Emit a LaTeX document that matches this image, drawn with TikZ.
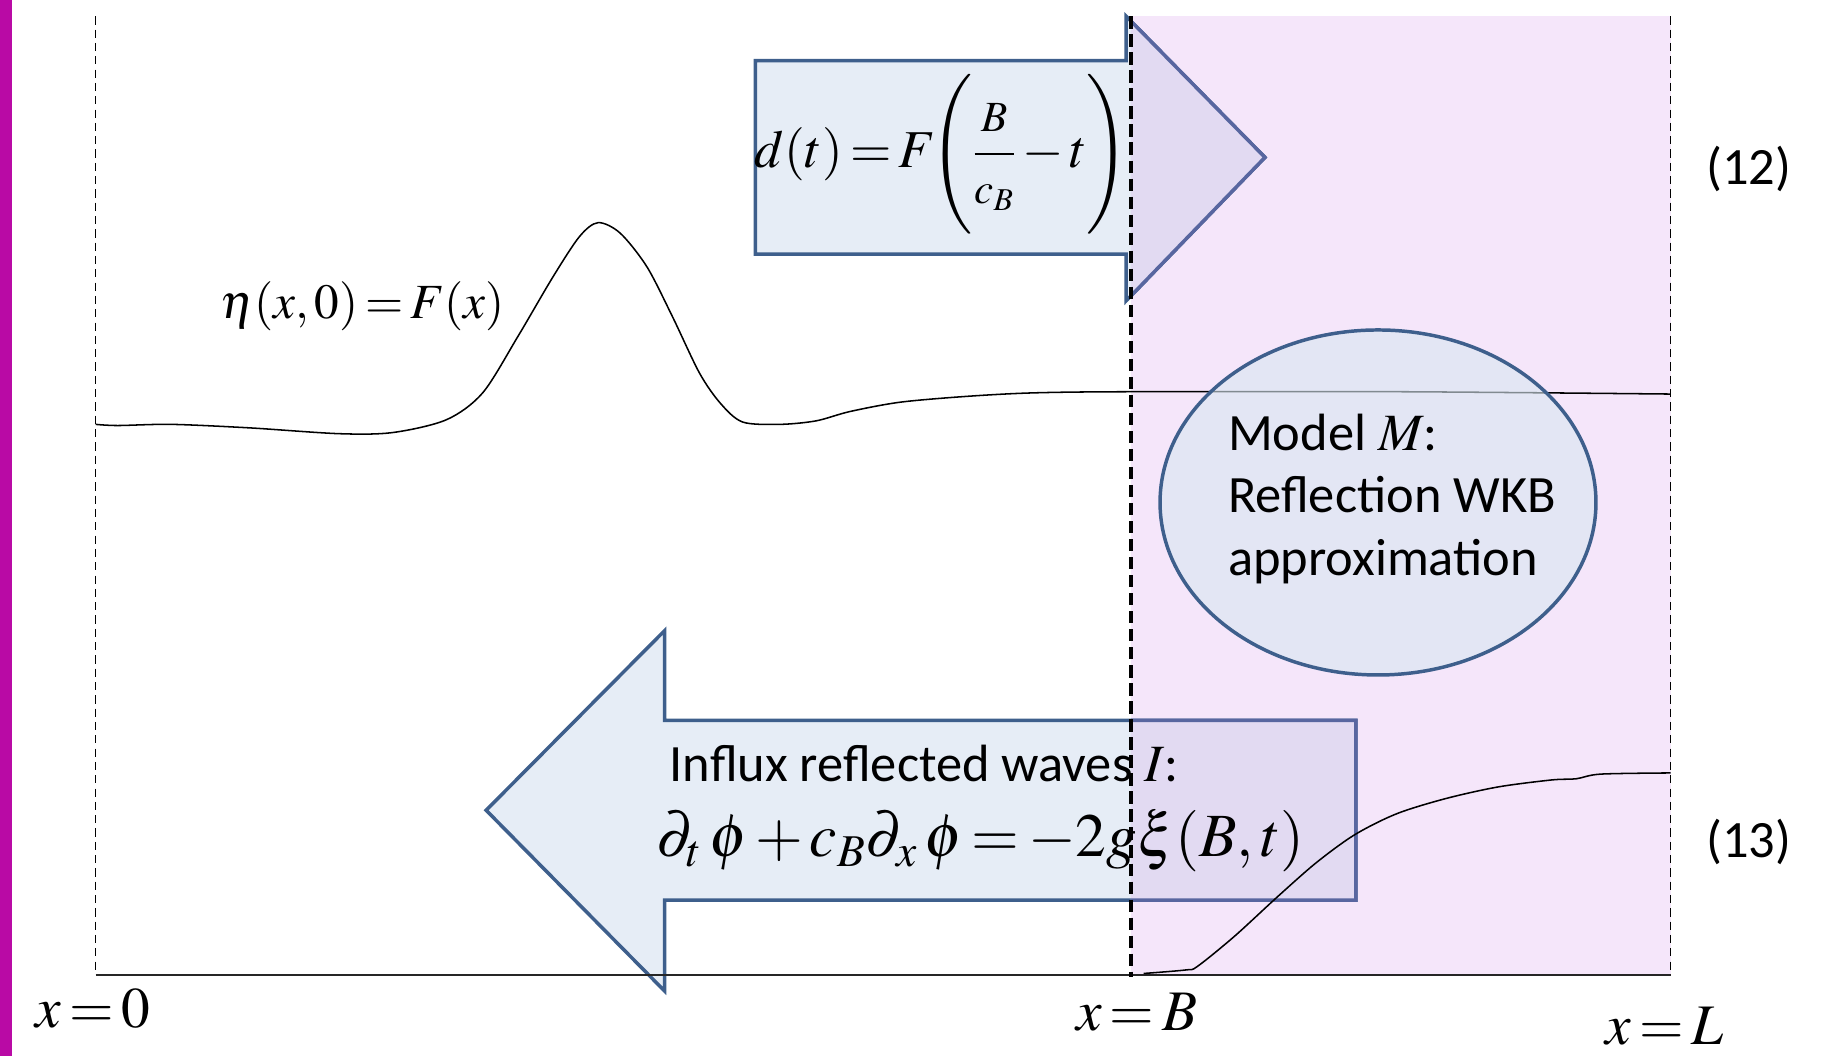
\documentclass[tikz,border=0pt]{standalone}
\usepackage{amsmath}
\usepackage{mathptmx}
\usepackage[no-math]{fontspec}
\setmainfont{Carlito}
\usepackage{xcolor}

\definecolor{sidebar}{RGB}{185,10,165}
\definecolor{zonepink}{RGB}{245,230,250}
\definecolor{arrowfill}{RGB}{230,237,246}
\definecolor{arrowedge}{RGB}{62,95,140}
\definecolor{zonefill}{RGB}{226,218,242}
\definecolor{zoneedge}{RGB}{88,102,160}
\definecolor{modelfill}{RGB}{215,230,240}

% MathType-like tight spacing
\newcommand{\tightmath}{\medmuskip=2mu\thickmuskip=2.5mu}
\newcommand{\fracpart}[1]{\mbox{\fontsize{21}{24}\selectfont$#1$}}

\begin{document}
\begin{tikzpicture}[x=0.02cm, y=-0.02cm,
    bigarrow/.style={fill=arrowfill, draw=arrowedge, line width=1.7pt, line join=miter},
    zonearrow/.style={fill=zonefill, draw=zoneedge, line width=1.7pt, line join=miter},
    thindash/.style={black, line width=0.6pt, dash pattern=on 4pt off 2.5pt},
    wave/.style={black, line width=0.75pt},
    lbl/.style={font=\fontsize{25.6}{30.7}\selectfont},
    eqn/.style={font=\fontsize{28}{32}\selectfont\tightmath}
]
    \useasboundingbox (0,0) rectangle (1568,906);

    % Side bar and boundary zone
    \fill[sidebar] (0,0) rectangle (10,906);
    \fill[zonepink] (970,14) rectangle (1433,836);

    % Incoming and reflected arrows
    \path[bigarrow] (648,52) -- (966,52) -- (966,14) -- (1085,135) -- (966,258) -- (966,218) -- (648,218) -- cycle;
    \path[bigarrow] (1163,618) -- (570,618) -- (570,541) -- (417,695) -- (570,850) -- (570,772) -- (1163,772) -- cycle;
    \begin{scope}
        \clip (970,0) rectangle (1440,906);
        \path[zonearrow] (648,52) -- (966,52) -- (966,14) -- (1085,135) -- (966,258) -- (966,218) -- (648,218) -- cycle;
        \path[zonearrow] (1163,618) -- (570,618) -- (570,541) -- (417,695) -- (570,850) -- (570,772) -- (1163,772) -- cycle;
    \end{scope}

    % Domain limits and bottom
    \draw[thindash] (82,14) -- (82,836);
    \draw[thindash] (1433,14) -- (1433,836);
    \draw[black!85, line width=0.9pt] (82,836) -- (1433,836);

    % Free surface and bottom profile
    \draw[wave] plot[smooth] coordinates {(82,364) (101,365) (147,364) (214,367) (291,372) (337,371) (383,360) (414,337) (444,289) (474,238) (497,203) (513,191) (532,200) (555,229) (577,272) (600,320) (618,346) (637,362) (669,364) (700,361) (729,353) (772,345) (829,340) (886,337) (969,336) (1200,336) (1433,338)};
    \draw[wave] plot[smooth] coordinates {(981,835) (1017,832) (1027,829) (1059,803) (1096,769) (1129,740) (1162,716) (1198,698) (1240,685) (1285,675) (1331,669) (1352,668) (1373,664) (1433,663)};

    % Model ellipse
    \draw[fill=modelfill, fill opacity=0.6, draw=arrowedge, line width=1.7pt] (1182,431) ellipse [x radius=3.74cm, y radius=2.96cm];

    % Boundary x = B
    \draw[black, line width=1.8pt, dash pattern=on 6pt off 2.8pt] (970,14) -- (970,838);

    % Texts
    \node[eqn, font=\fontsize{26}{30}\selectfont\tightmath] (dbound) at (808,132) {$d(t)=F\!\!\left(\rule[-1.1em]{0pt}{2.85em}\dfrac{\fracpart{B}}{\fracpart{c_B}}-t\right)$};
    \node[eqn, font=\fontsize{24}{28}\selectfont\tightmath] (init) at (311,263) {$\eta(x,0)=F(x)$};
    \node[lbl, anchor=west, align=left, inner sep=0pt] (model) at (1053,428) {Model $M$:\\Reflection WKB\\approximation};
    \node[lbl, anchor=base west, inner sep=0pt] (influx) at (574,670) {Influx reflected waves $I$:};
    \node[eqn, font=\fontsize{30}{34}\selectfont\tightmath, anchor=base west, inner sep=0pt] (flux) at (563,735) {$\partial_t\mkern2mu\phi+c_B\partial_x\mkern2mu\phi=-2g\xi(B,t)$};
    \node[lbl] (eq12) at (1500,145) {(12)};
    \node[lbl] (eq13) at (1500,722) {(13)};
    \node[eqn] (xzero) at (80,865) {$x=0$};
    \node[eqn] (xB) at (975,868) {$x=B$};
    \node[eqn] (xL) at (1428,880) {$x=L$};
\end{tikzpicture}
\end{document}
